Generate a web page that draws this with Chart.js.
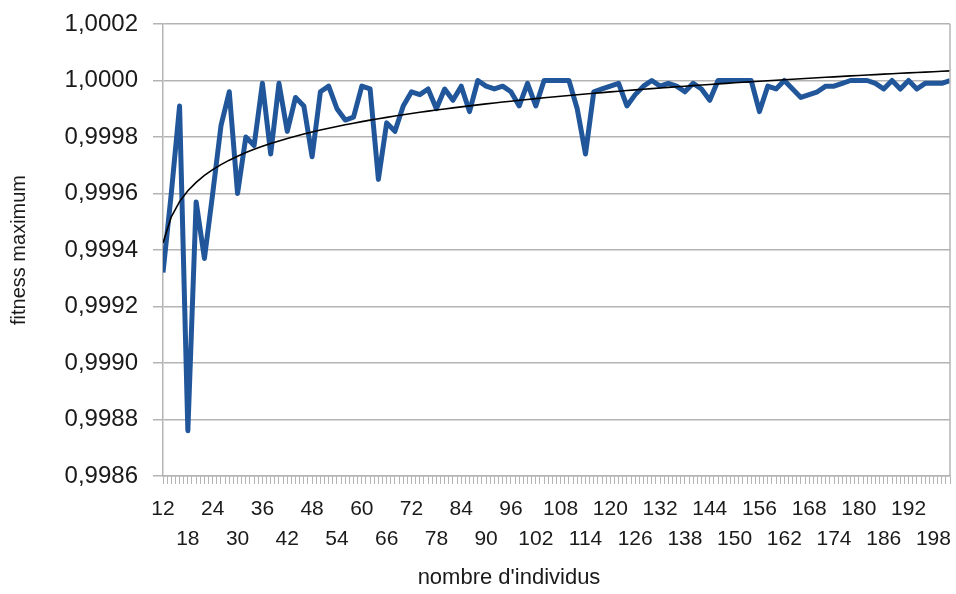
<!DOCTYPE html>
<html>
<head>
<meta charset="utf-8">
<script src="https://cdn.jsdelivr.net/npm/chart.js@4.4.1/dist/chart.umd.min.js"></script>
<style>
  html, body { margin: 0; padding: 0; background: #fff; }
  #wrap { width: 956px; height: 594px; }
</style>
</head>
<body>
<div id="wrap"><canvas id="fitnessChart" width="956" height="594"></canvas></div>
<script>
// nombre d'individus (un point tous les 2)
const individus = [
  12, 14, 16, 18, 20, 22, 24, 26, 28, 30, 32, 34, 36, 38, 40, 42, 44, 46, 48, 50,
  52, 54, 56, 58, 60, 62, 64, 66, 68, 70, 72, 74, 76, 78, 80, 82, 84, 86, 88, 90,
  92, 94, 96, 98, 100, 102, 104, 106, 108, 110, 112, 114, 116, 118, 120, 122, 124, 126, 128, 130,
  132, 134, 136, 138, 140, 142, 144, 146, 148, 150, 152, 154, 156, 158, 160, 162, 164, 166, 168, 170,
  172, 174, 176, 178, 180, 182, 184, 186, 188, 190, 192, 194, 196, 198, 200, 202
];

// fitness maximum
const fitnessMax = [
  0.99932, 0.99960, 0.99991, 0.99876, 0.99957, 0.99937, 0.99960, 0.99984, 0.99996, 0.99960,
  0.99980, 0.99977, 0.99999, 0.99974, 0.99999, 0.99982, 0.99994, 0.99991, 0.99973, 0.99996,
  0.99998, 0.99990, 0.99986, 0.99987, 0.99998, 0.99997, 0.99965, 0.99985, 0.99982, 0.99991,
  0.99996, 0.99995, 0.99997, 0.99990, 0.99997, 0.99993, 0.99998, 0.99989, 1.00000, 0.99998,
  0.99997, 0.99998, 0.99996, 0.99991, 0.99999, 0.99991, 1.00000, 1.00000, 1.00000, 1.00000,
  0.99990, 0.99974, 0.99996, 0.99997, 0.99998, 0.99999, 0.99991, 0.99995, 0.99998, 1.00000,
  0.99998, 0.99999, 0.99998, 0.99996, 0.99999, 0.99997, 0.99993, 1.00000, 1.00000, 1.00000,
  1.00000, 1.00000, 0.99989, 0.99998, 0.99997, 1.00000, 0.99997, 0.99994, 0.99995, 0.99996,
  0.99998, 0.99998, 0.99999, 1.00000, 1.00000, 1.00000, 0.99999, 0.99997, 1.00000, 0.99997,
  1.00000, 0.99997, 0.99999, 0.99999, 0.99999, 1.00000
];

const xTickLabels = [
  12, 18, 24, 30, 36, 42, 48, 54, 60, 66, 72, 78, 84, 90, 96, 102,
  108, 114, 120, 126, 132, 138, 144, 150, 156, 162, 168, 174, 180, 186, 192, 198
];
const yTicks = [0.9986, 0.9988, 0.9990, 0.9992, 0.9994, 0.9996, 0.9998, 1.0000, 1.0002];

// courbe de tendance logarithmique (moindres carrés sur ln(rang), comme le tableur)
const lnRang = fitnessMax.map((_, i) => Math.log(i + 1));
const mx = lnRang.reduce((s, v) => s + v, 0) / lnRang.length;
const my = fitnessMax.reduce((s, v) => s + v, 0) / fitnessMax.length;
let sxy = 0, sxx = 0;
lnRang.forEach((l, i) => { sxy += (l - mx) * (fitnessMax[i] - my); sxx += (l - mx) * (l - mx); });
const pente = sxy / sxx;
const origine = my - pente * mx;
const tendance = lnRang.map(l => origine + pente * l);

const grille = '#b4b4b4';
const texte = '#1a1a1a';
const police = 'Liberation Sans, Arial, Helvetica, sans-serif';

// titre de l'axe x (décalé comme sur l'original) + bord droit
const titreX = {
  id: 'titreX',
  afterDraw(chart) {
    const c = chart.ctx;
    c.save();
    c.font = '22px ' + police;
    c.fillStyle = texte;
    c.textAlign = 'center';
    c.textBaseline = 'middle';
    c.fillText("nombre d'individus", 509, 578);
    const a = chart.chartArea;
    c.strokeStyle = grille;
    c.lineWidth = 1.5;
    c.beginPath();
    c.moveTo(a.right, a.top);
    c.lineTo(a.right, a.bottom);
    c.stroke();
    c.restore();
  }
};

new Chart(document.getElementById('fitnessChart'), {
  type: 'line',
  data: {
    datasets: [
      {
        label: 'tendance',
        data: individus.map((x, i) => ({ x: x, y: tendance[i] })),
        borderColor: '#000',
        borderWidth: 1.6,
        pointRadius: 0,
        order: 1
      },
      {
        label: 'fitness maximum',
        data: individus.map((x, i) => ({ x: x, y: fitnessMax[i] })),
        borderColor: '#21579a',
        borderWidth: 5,
        borderJoinStyle: 'round',
        pointRadius: 0,
        order: 2
      }
    ]
  },
  options: {
    responsive: false,
    animation: false,
    layout: { padding: { left: 4, right: 6, top: 24, bottom: 6 } },
    plugins: {
      legend: { display: false },
      tooltip: { enabled: false }
    },
    scales: {
      x: {
        type: 'linear',
        min: 12,
        max: 202,
        ticks: {
          stepSize: 1,
          autoSkip: false,
          maxRotation: 0,
          padding: 11,
          color: texte,
          font: { family: police, size: 21, lineHeight: 1.4 },
          callback: v => {
            const k = xTickLabels.indexOf(v);
            if (k < 0) return '';
            return k % 2 === 0 ? [String(v), ''] : ['', String(v)];
          }
        },
        grid: { drawOnChartArea: false, tickLength: 8, color: grille, lineWidth: 1 },
        border: { color: grille, width: 1.5 },
        afterFit: s => { s.height = 112; s.paddingLeft = 0; s.paddingRight = 0; }
      },
      y: {
        min: 0.9986,
        max: 1.0002,
        afterBuildTicks: axis => { axis.ticks = yTicks.map(v => ({ value: v })); },
        ticks: {
          padding: 15,
          color: texte,
          font: { family: police, size: 24 },
          callback: v => v.toFixed(4).replace('.', ',')
        },
        grid: { color: grille, lineWidth: 1.5, tickLength: 10 },
        border: { color: grille, width: 1.5 },
        title: {
          display: true,
          text: 'fitness maximum',
          color: texte,
          font: { family: police, size: 20 },
          padding: { top: 3, bottom: 4 }
        },
        afterFit: s => { s.width = 159; s.paddingTop = 0; s.paddingBottom = 0; }
      }
    }
  },
  plugins: [titreX]
});
</script>
</body>
</html>
